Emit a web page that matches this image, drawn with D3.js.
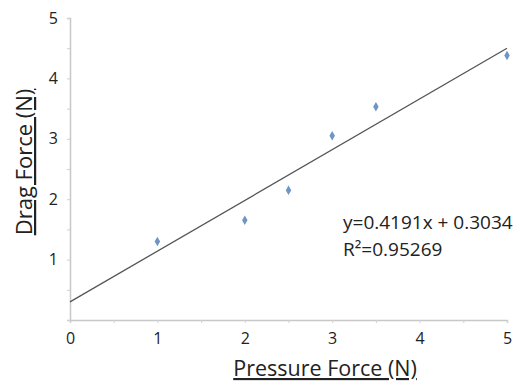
<!DOCTYPE html>
<html>
<head>
<meta charset="utf-8">
<script src="https://cdnjs.cloudflare.com/ajax/libs/d3/7.8.5/d3.min.js"></script>
<style>
  body { margin: 0; background: #fff; }
  text { font-family: "Open Sans", "Liberation Sans", sans-serif; fill: #222; }
  .title { text-decoration: underline; text-decoration-skip-ink: none; }
</style>
</head>
<body>
<script>
// data
var pressureForce = [1, 2, 2.5, 3, 3.5, 5];
var dragForce = [1.3, 1.65, 2.15, 3.05, 3.53, 4.38];
var trendX = [0, 5];
var trendY = [0.30, 4.5];
var tickValues = [0, 1, 2, 3, 4, 5];
var minorTicks = [0, 0.5, 1, 1.5, 2, 2.5, 3, 3.5, 4, 4.5, 5];
var equationLines = ["y=0.4191x + 0.3034", "R²=0.95269"];

var W = 521, H = 385;
var margin = {top: 18, right: 14, bottom: 64, left: 70};

var x = d3.scaleLinear().domain([0, 5]).range([0, 437]);
var y = d3.scaleLinear().domain([0, 5]).range([302, 0]);

var svg = d3.select("body").append("svg")
    .attr("width", W)
    .attr("height", H)
  .append("g")
    .attr("transform", "translate(" + margin.left + "," + margin.top + ")");

// axis lines with small tick marks
svg.append("g")
    .attr("transform", "translate(0," + y(0) + ")")
    .call(d3.axisBottom(x).tickValues(minorTicks).tickSize(3).tickFormat(""))
    .call(function(g) {
        g.select(".domain").attr("stroke", "#c8c8c8").attr("stroke-width", 1.5);
        g.selectAll(".tick line").attr("stroke", "#d0d0d0");
    });
svg.append("g")
    .call(d3.axisLeft(y).tickValues(minorTicks).tickSize(3).tickFormat(""))
    .call(function(g) {
        g.select(".domain").attr("stroke", "#c8c8c8").attr("stroke-width", 1.5);
        g.selectAll(".tick line").attr("stroke", "#d0d0d0");
    });

// tick labels
svg.append("g")
    .attr("transform", "translate(0," + y(0) + ")")
    .call(d3.axisBottom(x).tickValues(tickValues).tickSize(0).tickPadding(13).tickFormat(d3.format("d")))
    .call(function(g) {
        g.select(".domain").remove();
        g.selectAll("text").style("font-size", "16px").attr("fill", "#1a1a1a");
    });
svg.append("g")
    .call(d3.axisLeft(y).tickValues(tickValues.slice(1)).tickSize(0).tickPadding(12).tickFormat(d3.format("d")))
    .call(function(g) {
        g.select(".domain").remove();
        g.selectAll("text").style("font-size", "16px").attr("fill", "#1a1a1a");
    });

// trend line
var line = d3.line()
    .x(function(d) { return x(d[0]); })
    .y(function(d) { return y(d[1]); });
svg.append("path")
    .datum(d3.zip(trendX, trendY))
    .attr("fill", "none")
    .attr("stroke", "#555")
    .attr("stroke-width", 1.3)
    .attr("d", line);

// points
svg.selectAll(".pt")
    .data(d3.zip(pressureForce, dragForce))
  .enter().append("path")
    .attr("class", "pt")
    .attr("d", d3.symbol().type(d3.symbolDiamond).size(26))
    .attr("transform", function(d) { return "translate(" + x(d[0]) + "," + y(d[1]) + ")"; })
    .attr("fill", "#6f95c4");

// equation
svg.selectAll(".eq")
    .data(equationLines)
  .enter().append("text")
    .attr("class", "eq")
    .attr("x", 273)
    .attr("y", function(d, i) { return 211 + i * 27; })
    .style("font-size", "19px")
    .text(function(d) { return d; });

// axis titles
svg.append("text")
    .attr("class", "title")
    .attr("x", 255)
    .attr("y", 358)
    .attr("text-anchor", "middle")
    .style("font-size", "21.5px")
    .text("Pressure Force (N)");

svg.append("text")
    .attr("class", "title")
    .attr("transform", "rotate(-90)")
    .attr("x", -144)
    .attr("y", -38)
    .attr("text-anchor", "middle")
    .style("font-size", "22px")
    .text("Drag Force (N)");
</script>
</body>
</html>
